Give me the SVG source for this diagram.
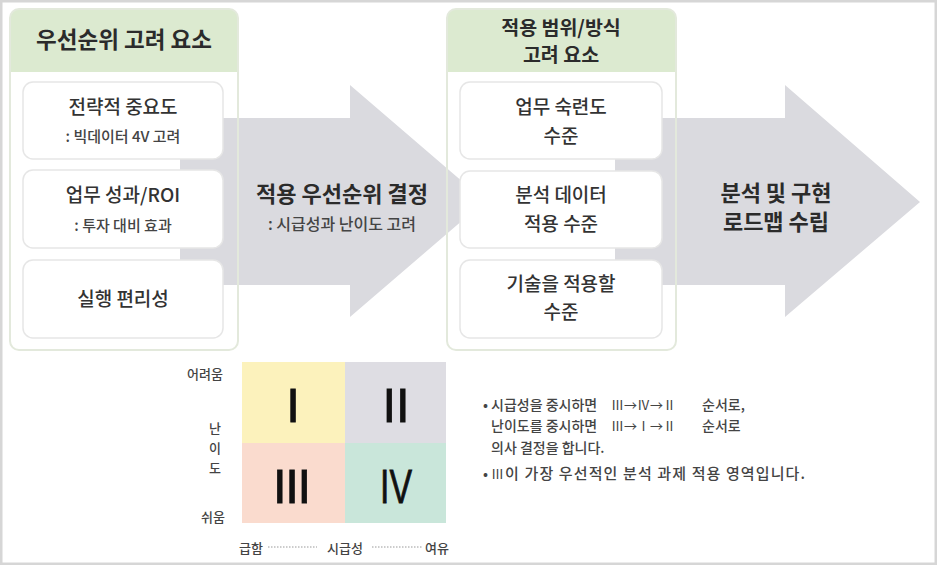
<svg xmlns="http://www.w3.org/2000/svg" width="937" height="565" viewBox="0 0 937 565">
<style>
.k{font-family:"Noto Sans CJK KR","Noto Sans",sans-serif;fill:#333;text-anchor:middle}
.hd{font-size:22.5px;font-weight:700;fill:#2b2b2b}
.hd2{font-size:19.5px;font-weight:700;fill:#2b2b2b}
.bx{font-size:19px;font-weight:500}
.sb{font-size:15px;font-weight:500;fill:#444}
.ar{font-size:22px;font-weight:700;fill:#2b2b2b}
.ax{font-size:13px;font-weight:500;fill:#444}
.nt{font-size:14px;font-weight:500;fill:#444;text-anchor:start}
.rs{font-size:13px;font-weight:400}
.panel{fill:#ffffff}
.pborder{fill:none;stroke:#e3e9dc;stroke-width:2}
.head{fill:#dcead0}
.box{fill:#ffffff;stroke:#e6e6e6;stroke-width:1.5}
.arrow{fill:#dadadf}
.rn{font-family:"Liberation Sans",Arial,sans-serif;font-size:49px;fill:#111;stroke:#111;stroke-width:0.8;text-anchor:middle}
</style>
<rect x="1.25" y="1.25" width="934.5" height="562.5" fill="#ffffff" stroke="#d6d6d6" stroke-width="2.5"/>

<g id="panel-left-bg">
<rect class="panel" x="10" y="9" width="228" height="341" rx="9"/>
<path class="head" d="M10 72 V18 a9 9 0 0 1 9 -9 H229 a9 9 0 0 1 9 9 V72 Z"/>
</g>
<g id="panel-right-bg">
<rect class="panel" x="447" y="9" width="229" height="341" rx="9"/>
<path class="head" d="M447 72 V18 a9 9 0 0 1 9 -9 H667 a9 9 0 0 1 9 9 V72 Z"/>
</g>

<g id="connectors">
<polygon id="arrow-1" class="arrow" points="180,118 350,118 350,85 485,201 350,317 350,285 180,285"/>
<polygon id="arrow-2" class="arrow" points="615,118 785,118 785,85 920,202 785,317 785,285 615,285"/>
</g>

<g id="panel-left">
<rect class="pborder" x="10" y="9" width="228" height="341" rx="9"/>
<text class="k hd" x="124" y="48">우선순위 고려 요소</text>
</g>
<g id="node-strategy">
<rect class="box" x="23" y="82" width="200" height="77" rx="10"/>
<text class="k bx" x="123" y="114">전략적 중요도</text>
<text class="k sb" x="123" y="142">: 빅데이터 4V 고려</text>
</g>
<g id="node-roi">
<rect class="box" x="23" y="170" width="200" height="78" rx="10"/>
<text class="k bx" x="123" y="202">업무 성과/ROI</text>
<text class="k sb" x="123" y="231">: 투자 대비 효과</text>
</g>
<g id="node-convenience">
<rect class="box" x="23" y="260" width="200" height="78" rx="10"/>
<text class="k bx" x="123" y="306">실행 편리성</text>
</g>

<g id="label-priority">
<text class="k ar" x="342" y="202">적용 우선순위 결정</text>
<text class="k sb" x="342" y="230" style="font-size:16px">: 시급성과 난이도 고려</text>
</g>

<g id="panel-right">
<rect class="pborder" x="447" y="9" width="229" height="341" rx="9"/>
<text class="k hd2" x="561" y="35">적용 범위/방식</text>
<text class="k hd2" x="561" y="62">고려 요소</text>
</g>
<g id="node-skill">
<rect class="box" x="460" y="82" width="202" height="77" rx="10"/>
<text class="k bx" x="561" y="114">업무 숙련도</text>
<text class="k bx" x="561" y="143">수준</text>
</g>
<g id="node-data">
<rect class="box" x="460" y="171" width="202" height="77" rx="10"/>
<text class="k bx" x="561" y="202">분석 데이터</text>
<text class="k bx" x="561" y="231">적용 수준</text>
</g>
<g id="node-tech">
<rect class="box" x="460" y="260" width="202" height="78" rx="10"/>
<text class="k bx" x="561" y="291">기술을 적용할</text>
<text class="k bx" x="561" y="319">수준</text>
</g>

<g id="label-roadmap">
<text class="k ar" x="776" y="201">분석 및 구현</text>
<text class="k ar" x="776" y="230">로드맵 수립</text>
</g>

<g id="matrix">
<rect x="242" y="362" width="103" height="81" fill="#fcf2bc"/>
<rect x="345" y="362" width="101" height="81" fill="#dedde3"/>
<rect x="242" y="443" width="103" height="80" fill="#fadbce"/>
<rect x="345" y="443" width="101" height="80" fill="#c9e6da"/>
<text class="rn" x="293" y="422">I</text>
<text class="rn" x="396" y="422">II</text>
<text class="rn" x="292" y="503" textLength="38" lengthAdjust="spacing">III</text>
<text class="rn" x="396" y="503" textLength="32" lengthAdjust="spacingAndGlyphs">IV</text>
</g>

<g id="matrix-axes">
<text class="k ax" x="205" y="379">어려움</text>
<text class="k ax" x="215" y="433">난</text>
<text class="k ax" x="215" y="453">이</text>
<text class="k ax" x="215" y="473">도</text>
<text class="k ax" x="213" y="522">쉬움</text>
<text class="k ax" x="251" y="553">급함</text>
<text class="k ax" x="345" y="553">시급성</text>
<text class="k ax" x="437" y="553">여유</text>
<line x1="268" y1="547" x2="317" y2="547" stroke="#999" stroke-width="1" stroke-dasharray="1.5 1.5"/>
<line x1="372" y1="547" x2="422" y2="547" stroke="#999" stroke-width="1" stroke-dasharray="1.5 1.5"/>
</g>

<g id="notes">
<text class="k nt" x="483" y="410">•</text>
<text class="k nt" x="491" y="410">시급성을 중시하면</text>
<text class="k nt rs" x="611" y="410">Ⅲ→Ⅳ→Ⅱ</text>
<text class="k nt" x="702" y="410">순서로,</text>
<text class="k nt" x="491" y="431">난이도를 중시하면</text>
<text class="k nt rs" x="611" y="431">Ⅲ→Ⅰ→Ⅱ</text>
<text class="k nt" x="702" y="431">순서로</text>
<text class="k nt" x="491" y="453">의사 결정을 합니다.</text>
<text class="k nt" x="483" y="479">•</text>
<text class="k nt" x="491" y="479" style="font-size:15px" textLength="314" lengthAdjust="spacing"><tspan class="rs">Ⅲ</tspan>이 가장 우선적인 분석 과제 적용 영역입니다.</text>
</g>
</svg>
